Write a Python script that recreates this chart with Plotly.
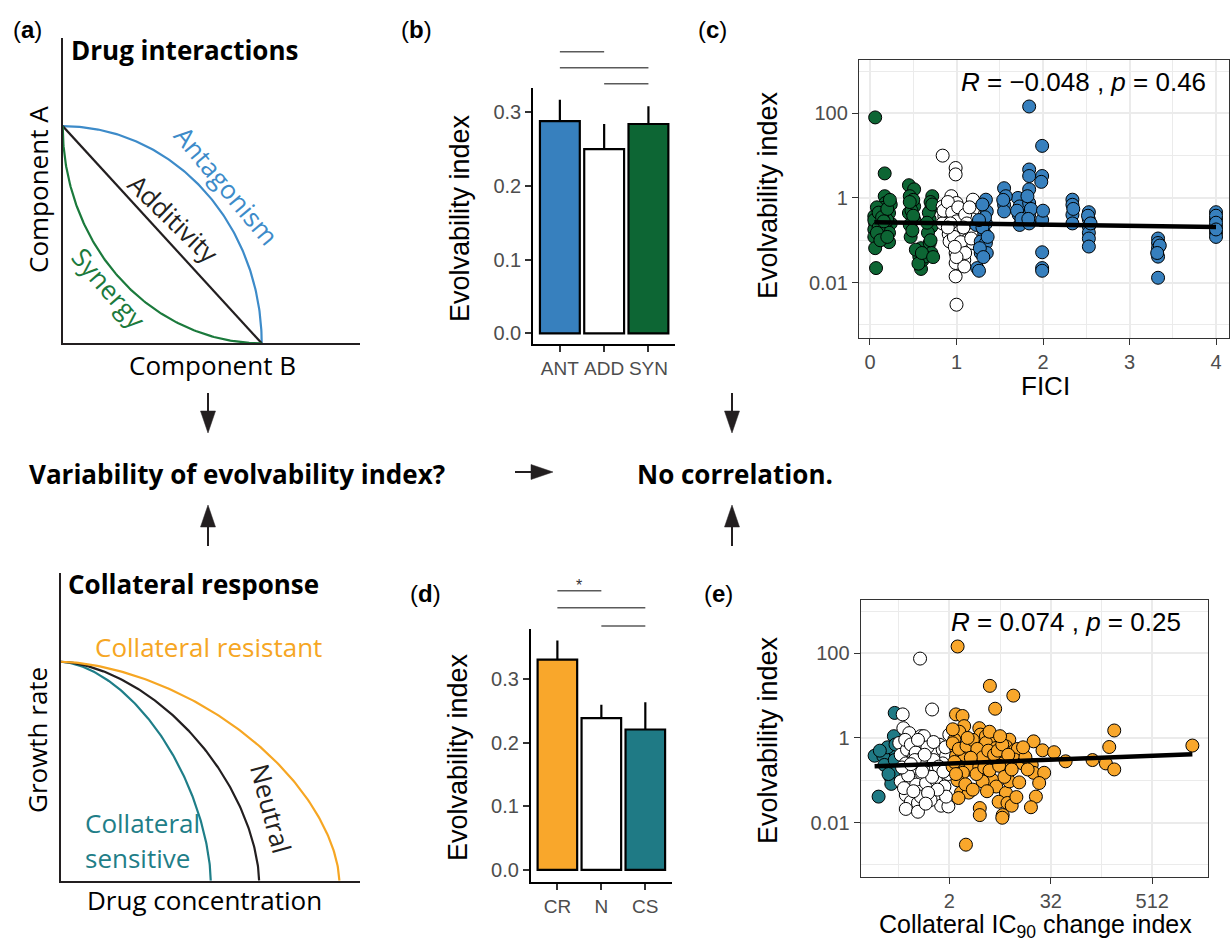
import numpy as np
import plotly.graph_objects as go

# ---------------- data ----------------
b_categories = ["ANT", "ADD", "SYN"]
b_means = [0.288, 0.250, 0.284]
b_se = [0.029, 0.034, 0.024]
b_brackets = [(1, 2), (1, 3), (2, 3)]

d_categories = ["CR", "N", "CS"]
d_means = [0.331, 0.239, 0.221]
d_se = [0.030, 0.021, 0.043]
d_brackets = [(1, 2), (1, 3), (2, 3)]
d_bracket_labels = ["*", "", ""]

# panel (c): FICI vs evolvability index
c_syn_fici = [0.06, 0.05, 0.06, 0.05, 0.05, 0.06, 0.07, 0.13, 0.17, 0.17, 0.18, 0.24, 0.15, 0.22,
              0.17, 0.24, 0.18, 0.22, 0.22, 0.45, 0.51, 0.46, 0.51, 0.45, 0.51, 0.46, 0.47, 0.59,
              0.57, 0.59, 0.61, 0.72, 0.71, 0.69, 0.71, 0.67, 0.69, 0.71, 0.63, 0.12, 0.20, 0.50,
              0.48, 0.70, 0.05, 0.10, 0.08, 0.10, 0.14, 0.20, 0.23, 0.16, 0.08, 0.12, 0.20, 0.46,
              0.50, 0.49, 0.53, 0.56, 0.60, 0.68, 0.72, 0.66, 0.70, 0.73]
c_syn_ei = [80, 0.37, 0.25, 0.18, 0.12, 0.065, 0.022, 0.31, 3.8, 1.1, 0.76, 0.70, 0.58, 0.44,
            0.37, 0.25, 0.20, 0.15, 0.09, 2.0, 1.6, 1.1, 0.63, 0.44, 0.31, 0.23, 0.12, 0.065,
            0.041, 0.021, 0.034, 1.1, 0.58, 0.31, 0.21, 0.15, 0.086, 0.050, 0.041, 0.50, 0.30,
            0.90, 0.50, 0.80, 0.30, 0.20, 0.60, 0.45, 0.35, 0.55, 0.90, 0.28, 0.15, 0.10, 0.12,
            0.80, 0.38, 0.17, 0.060, 0.028, 0.050, 0.45, 0.70, 0.26, 0.10, 0.040]
c_add_fici = [0.84, 0.94, 0.84, 0.86, 0.84, 0.99, 0.99, 1.00, 0.99, 1.00, 0.99, 0.99, 0.99, 0.99,
              0.99, 0.99, 1.00, 1.09, 1.07, 1.09, 1.09, 0.91, 0.92, 1.19, 1.19, 1.19, 1.18, 1.19,
              0.96, 0.85, 0.90, 0.95, 1.02, 1.00, 1.03, 0.97, 1.05, 1.10, 1.12, 1.15, 1.10, 1.08,
              0.93, 0.90, 1.17, 1.00, 0.98]
c_add_ei = [10, 1.1, 0.63, 0.37, 0.25, 5.1, 3.6, 0.76, 0.48, 0.37, 0.21, 0.14, 0.10, 0.050,
            0.029, 0.014, 0.003, 0.15, 0.071, 0.034, 0.024, 0.14, 0.094, 0.91, 0.53, 0.31, 0.15,
            0.086, 0.31, 0.50, 0.80, 0.45, 0.60, 0.28, 0.17, 0.12, 0.09, 0.40, 0.25, 0.60, 0.05,
            0.20, 0.25, 0.20, 0.11, 0.04, 0.07]
c_ant_fici = [1.34, 1.35, 1.34, 1.32, 1.28, 1.34, 1.28, 1.35, 1.24, 1.26, 1.23, 1.55, 1.55, 1.55,
              1.71, 1.73, 1.72, 1.73, 1.84, 1.84, 1.84, 1.84, 1.84, 1.84, 1.84, 1.99, 1.99, 1.99,
              1.99, 1.99, 1.99, 2.34, 2.34, 2.34, 2.34, 2.53, 2.53, 2.53, 2.53, 2.53, 2.53, 3.33,
              3.33, 3.33, 3.33, 3.33, 4.0, 4.0, 4.0, 4.0, 4.0, 1.30, 1.33, 1.30, 1.36, 1.27, 1.31,
              1.26, 1.57, 1.54, 1.70, 1.75, 1.82, 1.86, 1.83, 2.00, 2.35, 2.52, 2.55, 3.35, 3.32,
              4.0, 4.0, 4.0, 1.98]
c_ant_ei = [0.91, 0.48, 0.25, 0.15, 0.093, 0.086, 0.050, 0.050, 0.022, 0.019, 0.23, 1.7, 0.69,
            0.48, 1.0, 0.63, 0.40, 0.23, 145, 4.7, 3.3, 1.6, 0.76, 0.40, 0.25, 17, 3.3, 0.30,
            0.052, 0.022, 0.019, 0.91, 0.69, 0.40, 0.25, 0.46, 0.31, 0.21, 0.15, 0.11, 0.071,
            0.11, 0.086, 0.065, 0.041, 0.013, 0.46, 0.32, 0.21, 0.15, 0.12, 0.70, 0.35, 0.20,
            0.12, 0.065, 0.040, 0.30, 1.1, 0.90, 0.50, 0.32, 1.1, 0.55, 0.32, 0.50, 0.55, 0.38,
            0.25, 0.075, 0.050, 0.38, 0.26, 0.18, 2.4]
c_fit = (-0.575, -0.028)      # log10(EI) = a + b * FICI
c_stat = "<i>R</i> = \u22120.048 , <i>p</i> = 0.46"

# panel (e): collateral IC90 change index vs evolvability index
e_cs_x = [0.26, 0.29, 0.36, 0.41, 0.43, 0.44, 0.45, 0.39, 0.42, 0.40, 0.41, 0.47, 0.33, 0.34,
          0.37, 0.45, 0.30, 0.44, 0.38, 0.46]
e_cs_ei = [0.38, 0.041, 0.48, 0.58, 0.40, 1.1, 3.9, 0.28, 0.21, 0.12, 0.082, 0.25, 0.37, 0.23,
           0.60, 0.30, 0.50, 0.16, 0.14, 0.70]
e_n_x = [0.90, 1.25, 0.56, 0.57, 0.67, 0.92, 1.00, 2.00, 1.53, 0.51, 0.53, 0.63, 0.77, 0.88, 1.06,
         1.16, 1.39, 1.67, 1.83, 0.61, 0.74, 0.90, 1.00, 1.16, 1.39, 1.67, 1.95, 0.53, 0.70, 0.81,
         0.92, 1.06, 1.39, 1.75, 0.61, 0.70, 0.85, 0.92, 0.61, 0.85, 1.60, 1.95, 1.83, 1.20,
         0.60, 0.70, 0.80, 0.95, 1.10, 1.30, 1.50, 1.80, 0.65, 0.78, 1.02, 1.25, 1.45, 0.55,
         0.58, 1.12, 0.75, 1.70, 0.95, 0.85, 1.30, 0.70, 1.05]
e_n_ei = [75, 4.7, 3.6, 1.7, 1.3, 1.1, 1.1, 1.2, 0.69, 0.76, 0.40, 0.53, 0.37, 0.63, 0.48, 0.37,
          0.44, 0.53, 0.37, 0.25, 0.19, 0.25, 0.21, 0.15, 0.19, 0.25, 0.14, 0.094, 0.10, 0.079,
          0.054, 0.086, 0.10, 0.071, 0.045, 0.031, 0.029, 0.041, 0.021, 0.018, 0.025, 0.024,
          0.041, 0.034, 0.90, 0.70, 0.45, 0.33, 0.60, 0.30, 0.21, 0.60, 0.13, 0.30, 0.40, 0.12,
          0.060, 0.20, 0.065, 0.050, 0.055, 0.16, 0.16, 0.90, 0.80, 0.24, 0.028]
e_cr_x = [2.51, 6.06, 11.5, 7.0, 2.4, 2.87, 3.0, 4.54, 4.7, 5.44, 6.53, 10.3, 3.45, 2.4, 2.87,
          3.45, 4.14, 4.97, 5.44, 7.2, 8.0, 9.4, 12, 13, 2.4, 3.0, 4.14, 6.53, 8.6, 11.8, 14.8,
          19, 2.63, 2.19, 3.45, 4.54, 5.44, 6.53, 4.97, 7.2, 9.4, 10.3, 13.5, 20, 26.7, 23.3,
          21.3, 18.6, 7.7, 9.8, 11, 8.6, 8.5, 4.6, 4.6, 2.75, 3.4, 2.57, 3.15, 20, 25.5, 35, 48,
          100, 144, 158, 181, 181, 1530, 2.63, 2.3, 2.2, 2.6, 3.2, 3.8, 4.3, 5.0, 5.8, 6.8, 7.5,
          8.5, 10, 2.3, 2.9, 3.6, 4.2, 5.2, 6.0, 7.8, 9, 11, 16, 17, 2.5, 3.1, 3.8, 5.6, 12.5,
          15, 2.2, 3.3, 6, 8, 2.4]
e_cr_ei = [145, 17, 10, 4.9, 3.6, 3.3, 1.9, 1.7, 1.2, 1.1, 0.91, 0.91, 0.79, 0.58, 0.44, 0.48,
           0.40, 0.63, 0.76, 0.58, 0.40, 0.63, 0.51, 0.55, 0.37, 0.31, 0.23, 0.28, 0.25, 0.31,
           0.25, 0.23, 0.21, 0.21, 0.18, 0.21, 0.13, 0.10, 0.094, 0.071, 0.050, 0.094, 0.089,
           0.15, 0.15, 0.086, 0.041, 0.023, 0.031, 0.029, 0.025, 0.015, 0.013, 0.022, 0.015,
           0.051, 0.051, 0.038, 0.003, 0.83, 0.51, 0.46, 0.28, 0.30, 0.25, 0.61, 1.5, 0.18, 0.66,
           1.4, 0.91, 0.75, 0.55, 0.65, 0.90, 0.55, 0.35, 0.50, 0.40, 0.50, 0.70, 0.40, 0.27,
           0.15, 0.34, 0.14, 0.20, 0.17, 0.22, 0.12, 0.18, 0.35, 0.18, 0.10, 0.08, 0.06, 0.055,
           0.04, 0.60, 1.6, 1.0, 1.4, 1.1, 0.14]
e_fit = (-0.627, 0.0226)      # log10(EI) = a + b * log2(x)
e_stat = "<i>R</i> = 0.074 , <i>p</i> = 0.25"

# schematic parameters (conceptual curves)
a_intercept_A, a_intercept_B = 1.0, 1.0
cr_curve_ends = {"sensitive": 0.754, "neutral": 0.997, "resistant": 1.40}
cr_curve_power = 1.7

# ---------------- styling ----------------
W, H = 1230, 943
SANS = "Liberation Sans, Arial, sans-serif"
MYR = "Open Sans, Noto Sans, sans-serif"
BLUE, GREEN, ORANGE, TEAL = "#3780BE", "#0D6634", "#F9A72B", "#1F7A85"
BLUE_L, GREEN_L, ORANGE_L, TEAL_L = "#3D8BC9", "#1B7A3C", "#F6A623", "#1F7E88"
GRID = "#EBEBEB"
TICKC = "#4D4D4D"
SCH = 26  # schematic font size


def px(x):
    return x / W


def py(y):
    return 1 - y / H


def xdom(x0, x1):
    return [px(x0), px(x1)]


def ydom(top, bot):
    return [py(bot), py(top)]


fig = go.Figure()
nohover = dict(hoverinfo="skip", showlegend=False)

# ---- panel (a) schematic ----
t = np.linspace(0, np.pi / 2, 150)
fig.add_trace(go.Scatter(x=a_intercept_B * np.sin(t), y=a_intercept_A * np.cos(t), mode="lines",
                         line=dict(color=BLUE_L, width=2.2), xaxis="x", yaxis="y", **nohover))
fig.add_trace(go.Scatter(x=[0, a_intercept_B], y=[a_intercept_A, 0], mode="lines",
                         line=dict(color="#231F20", width=2.2), xaxis="x", yaxis="y", **nohover))
fig.add_trace(go.Scatter(x=a_intercept_B * (1 - np.cos(t)), y=a_intercept_A * (1 - np.sin(t)),
                         mode="lines", line=dict(color=GREEN_L, width=2.2), xaxis="x", yaxis="y",
                         **nohover))

# ---- bottom-left schematic ----
for key, col in [("sensitive", TEAL_L), ("neutral", "#231F20"), ("resistant", ORANGE_L)]:
    a = cr_curve_ends[key]
    xs = a * np.sin(t) ** (2 / cr_curve_power)
    ys = np.cos(t) ** (2 / cr_curve_power)
    fig.add_trace(go.Scatter(x=xs, y=ys, mode="lines", line=dict(color=col, width=2.2),
                             xaxis="x4", yaxis="y4", **nohover))

# ---- panel (b) bars ----
fig.add_trace(go.Bar(x=[1, 2, 3], y=b_means, width=0.9,
                     marker=dict(color=[BLUE, "white", GREEN], line=dict(color="black", width=2.2)),
                     error_y=dict(type="data", symmetric=False, array=b_se, arrayminus=[0, 0, 0],
                                  width=0, thickness=2.2, color="black"),
                     xaxis="x2", yaxis="y2", **nohover))

# ---- panel (d) bars ----
fig.add_trace(go.Bar(x=[1, 2, 3], y=d_means, width=0.9,
                     marker=dict(color=[ORANGE, "white", TEAL], line=dict(color="black", width=2.2)),
                     error_y=dict(type="data", symmetric=False, array=d_se, arrayminus=[0, 0, 0],
                                  width=0, thickness=2.2, color="black"),
                     xaxis="x5", yaxis="y5", **nohover))

# ---- panel (c) scatter ----
mk = lambda c: dict(size=13, color=c, line=dict(color="black", width=1))
fig.add_trace(go.Scatter(x=c_syn_fici, y=c_syn_ei, mode="markers", marker=mk(GREEN),
                         xaxis="x3", yaxis="y3", **nohover))
fig.add_trace(go.Scatter(x=c_add_fici, y=c_add_ei, mode="markers", marker=mk("white"),
                         xaxis="x3", yaxis="y3", **nohover))
fig.add_trace(go.Scatter(x=c_ant_fici, y=c_ant_ei, mode="markers", marker=mk(BLUE),
                         xaxis="x3", yaxis="y3", **nohover))
c_all_x = np.array(c_syn_fici + c_add_fici + c_ant_fici)
cx = np.linspace(c_all_x.min(), c_all_x.max(), 50)
fig.add_trace(go.Scatter(x=cx, y=10 ** (c_fit[0] + c_fit[1] * cx), mode="lines",
                         line=dict(color="black", width=4.5), xaxis="x3", yaxis="y3", **nohover))

# ---- panel (e) scatter ----
fig.add_trace(go.Scatter(x=e_cs_x, y=e_cs_ei, mode="markers", marker=mk(TEAL),
                         xaxis="x6", yaxis="y6", **nohover))
fig.add_trace(go.Scatter(x=e_n_x, y=e_n_ei, mode="markers", marker=mk("white"),
                         xaxis="x6", yaxis="y6", **nohover))
fig.add_trace(go.Scatter(x=e_cr_x, y=e_cr_ei, mode="markers", marker=mk(ORANGE),
                         xaxis="x6", yaxis="y6", **nohover))
e_all_x = np.array(e_cs_x + e_n_x + e_cr_x)
ex = np.logspace(np.log10(e_all_x.min()), np.log10(e_all_x.max()), 50)
fig.add_trace(go.Scatter(x=ex, y=10 ** (e_fit[0] + e_fit[1] * np.log2(ex)), mode="lines",
                         line=dict(color="black", width=4.5), xaxis="x6", yaxis="y6", **nohover))

# ---------------- axes ----------------
schem_ax = dict(showline=True, linecolor="#231F20", linewidth=2.2, ticks="", showticklabels=False,
                showgrid=False, zeroline=False, fixedrange=True)
bar_ax = dict(showline=True, linecolor="black", linewidth=2.2, ticks="outside", ticklen=6,
              tickwidth=2, tickcolor="#333333", showgrid=False, zeroline=False,
              tickfont=dict(size=20, color=TICKC, family=SANS))
bar_xax = {**bar_ax, "tickfont": dict(size=19, color=TICKC, family=SANS)}
sc_ax = dict(showline=True, mirror=True, linecolor="#333333", linewidth=1.3, ticks="outside",
             ticklen=6, tickwidth=1.3, tickcolor="#333333", showgrid=True, gridcolor=GRID,
             gridwidth=1.8, zeroline=False, tickfont=dict(size=20, color=TICKC, family=SANS))
minor_style = dict(showgrid=True, gridcolor=GRID, gridwidth=1.2, ticklen=0)

fig.update_layout(
    xaxis=dict(domain=xdom(62.7, 360), range=[0, 1.494], anchor="y", **schem_ax),
    yaxis=dict(domain=ydom(38.3, 343.3), range=[0, 1.404], anchor="x", **schem_ax),
    xaxis4=dict(domain=xdom(60.7, 360), range=[0, 1.504], anchor="y4", **schem_ax),
    yaxis4=dict(domain=ydom(573.3, 880.7), range=[0, 1.404], anchor="x4", **schem_ax),
    xaxis2=dict(domain=xdom(533.3, 675), range=[0.4, 3.6], anchor="y2", tickvals=[1, 2, 3],
                ticktext=b_categories, **bar_xax),
    yaxis2=dict(domain=ydom(88.3, 344.3), range=[-0.0149, 0.3324], anchor="x2",
                tickvals=[0, 0.1, 0.2, 0.3], ticktext=["0.0", "0.1", "0.2", "0.3"], **bar_ax),
    xaxis5=dict(domain=xdom(531, 671.7), range=[0.4, 3.6], anchor="y5", tickvals=[1, 2, 3],
                ticktext=d_categories, **bar_xax),
    yaxis5=dict(domain=ydom(629.3, 882.3), range=[-0.0194, 0.3787], anchor="x5",
                tickvals=[0, 0.1, 0.2, 0.3], ticktext=["0.0", "0.1", "0.2", "0.3"], **bar_ax),
    xaxis3=dict(domain=xdom(859, 1229), range=[-0.127, 4.15], anchor="y3",
                tickvals=[0, 1, 2, 3, 4], ticktext=["0", "1", "2", "3", "4"],
                minor=dict(tickvals=[0.5, 1.5, 2.5, 3.5], **minor_style), **sc_ax),
    yaxis3=dict(domain=ydom(60, 338), type="log", range=[-3.31, 3.26], anchor="x3",
                tickvals=[0.01, 1, 100], ticktext=["0.01", "1", "100"],
                minor=dict(tickvals=[0.001, 0.1, 10, 1000], **minor_style), **sc_ax),
    xaxis6=dict(domain=xdom(860.7, 1208), type="log", range=[-0.75, 3.37], anchor="y6",
                tickvals=[2, 32, 512], ticktext=["2", "32", "512"],
                minor=dict(tickvals=[0.5, 8, 128], **minor_style), **sc_ax),
    yaxis6=dict(domain=ydom(600, 876.7), type="log", range=[-3.28, 3.26], anchor="x6",
                tickvals=[0.01, 1, 100], ticktext=["0.01", "1", "100"],
                minor=dict(tickvals=[0.001, 0.1, 10, 1000], **minor_style), **sc_ax),
)

# ---------------- shapes (brackets, arrows) ----------------
shapes = []
for (c1, c2), ypix in zip(b_brackets, [51.7, 67.7, 83.7]):
    shapes.append(dict(type="line", xref="x2", yref="paper", x0=c1, x1=c2, y0=py(ypix), y1=py(ypix),
                       line=dict(color="#5A5A5A", width=1.6)))
for (c1, c2), ypix in zip(d_brackets, [590.7, 607.7, 626]):
    shapes.append(dict(type="line", xref="x5", yref="paper", x0=c1, x1=c2, y0=py(ypix), y1=py(ypix),
                       line=dict(color="#5A5A5A", width=1.6)))


def arrow(x_tail, y_tail, x_tip, y_tip, head_len=22, head_w=15):
    v = np.array([x_tip - x_tail, y_tip - y_tail], float)
    L = np.hypot(*v)
    u = v / L
    n = np.array([-u[1], u[0]])
    base = np.array([x_tip, y_tip]) - u * head_len
    p1 = base + n * head_w / 2
    p2 = base - n * head_w / 2
    shapes.append(dict(type="line", xref="paper", yref="paper", x0=px(x_tail), y0=py(y_tail),
                       x1=px(base[0]), y1=py(base[1]), line=dict(color="#231F20", width=2)))
    path = "M {} {} L {} {} L {} {} Z".format(px(x_tip), py(y_tip), px(p1[0]), py(p1[1]),
                                               px(p2[0]), py(p2[1]))
    shapes.append(dict(type="path", xref="paper", yref="paper", path=path,
                       fillcolor="#231F20", line=dict(color="#231F20", width=0.5)))


arrow(208, 393, 208, 433)
arrow(732, 393, 732, 433)
arrow(208, 546, 208, 505)
arrow(732, 546, 732, 505)
arrow(515, 472, 553, 472)

# ---------------- annotations ----------------
ann = []


def text(s, x, y, size, color="black", family=SANS, angle=0, xanchor="center", yanchor="middle"):
    ann.append(dict(text=s, x=px(x), y=py(y), xref="paper", yref="paper", showarrow=False,
                    font=dict(size=size, color=color, family=family), textangle=angle,
                    xanchor=xanchor, yanchor=yanchor))


# panel labels
for lab, x, y in [("a", 27, 29), ("b", 416, 29), ("c", 712, 29), ("d", 425, 593), ("e", 718, 593)]:
    text("(<b>%s</b>)" % lab, x, y, 24)

# schematic (a)
text("<b>Drug interactions</b>", 69, 50, SCH, family=MYR, xanchor="left")
text("Component A", 38, 190, SCH, family=MYR, angle=-90)
text("Component B", 212, 365, SCH, family=MYR)
text("Antagonism", 227, 186, SCH, color=BLUE_L, family=MYR, angle=50)
text("Additivity", 174, 219, SCH, color="#231F20", family=MYR, angle=44)
text("Synergy", 109, 288, SCH, color=GREEN_L, family=MYR, angle=49)

# schematic bottom
text("<b>Collateral response</b>", 66, 584, SCH, family=MYR, xanchor="left")
text("Collateral resistant", 93, 647, SCH, color=ORANGE_L, family=MYR, xanchor="left")
text("Neutral", 271, 808, SCH, color="#231F20", family=MYR, angle=75)
text("Collateral", 83, 823, SCH, color=TEAL_L, family=MYR, xanchor="left")
text("sensitive", 83, 858, SCH, color=TEAL_L, family=MYR, xanchor="left")
text("Growth rate", 37, 740, SCH, family=MYR, angle=-90)
text("Drug concentration", 204, 900, SCH, family=MYR)

# middle flow text
text("<b>Variability of evolvability index?</b>", 237, 474, SCH, family=MYR)
text("<b>No correlation.</b>", 735, 474, SCH, family=MYR)

# axis titles
text("Evolvability index", 460, 218, 27, angle=-90)
text("Evolvability index", 458, 757, 27, angle=-90)
text("Evolvability index", 768, 195, 27, angle=-90)
text("Evolvability index", 768, 740, 27, angle=-90)
text("FICI", 1045, 386, 26)
text("Collateral IC<sub>90</sub> change index", 1035, 926, 25)

# stats
text(c_stat, 1083, 82, 26)
text(e_stat, 1066, 622, 26)

# significance star
ann.append(dict(text=d_bracket_labels[0], x=1.5, y=py(585), xref="x5", yref="paper",
                showarrow=False, font=dict(size=16, color="#333333", family=SANS)))

fig.update_layout(width=W, height=H, margin=dict(l=0, r=0, t=0, b=0), paper_bgcolor="white",
                  plot_bgcolor="white", showlegend=False, shapes=shapes, annotations=ann,
                  font=dict(family=SANS, color="black"))

fig.write_html("out.html", config={"displayModeBar": False},
               post_script="document.body.style.margin='0px';")
